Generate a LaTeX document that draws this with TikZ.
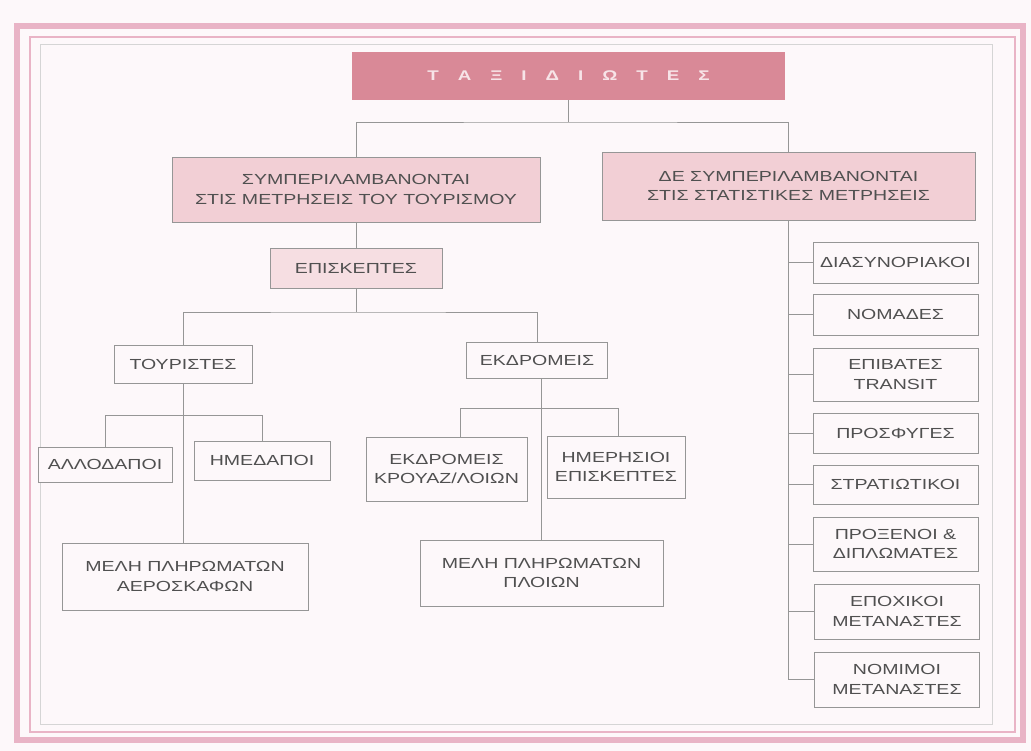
\documentclass[tikz,border=0pt]{standalone}
\usepackage{fontspec}
\setmainfont{Liberation Sans}[FakeStretch=1.34]

\definecolor{bgpink}{RGB}{253,248,250}
\definecolor{framepink}{RGB}{233,180,198}
\definecolor{titlepink}{RGB}{217,137,151}
\definecolor{titletext}{RGB}{247,228,232}
\definecolor{palepink}{RGB}{242,207,213}
\definecolor{lightpink}{RGB}{246,222,226}
\definecolor{linegray}{RGB}{150,150,150}
\definecolor{textgray}{RGB}{80,80,80}

\tikzset{
  box/.style={draw=linegray, line width=0.8pt, fill=bgpink, text=textgray,
    align=center, inner sep=2pt, font=\fontsize{14.6}{19.5}\selectfont},
  pinkbox/.style={box, fill=palepink},
  link/.style={draw=linegray, line width=0.8pt},
}

\begin{document}
\begin{tikzpicture}[x=1pt,y=-1pt]
\path[fill=bgpink] (0,0) rectangle (1031,751);
\draw[framepink, line width=6pt] (17,26) rectangle (1023,740);
\draw[framepink, line width=1.5pt] (30,37) rectangle (1015,732);
\draw[linegray!40, line width=0.6pt] (40,44) rectangle (992,724);

\node[box, draw=none, fill=titlepink, text=titletext, minimum width=433pt, minimum height=48pt,
  font=\fontsize{14}{16}\selectfont\bfseries] (title) at (568.5,76)
  {Τ\hspace{19pt}Α\hspace{19pt}Ξ\hspace{19pt}Ι\hspace{19pt}Δ\hspace{19pt}Ι\hspace{19pt}Ω\hspace{19pt}Τ\hspace{19pt}Ε\hspace{19pt}Σ};

\node[pinkbox, minimum width=368pt, minimum height=65pt] (incl) at (356,189.5)
  {ΣΥΜΠΕΡΙΛΑΜΒΑΝΟΝΤΑΙ\\ΣΤΙΣ ΜΕΤΡΗΣΕΙΣ ΤΟΥ ΤΟΥΡΙΣΜΟΥ};
\node[pinkbox, minimum width=373pt, minimum height=68pt] (excl) at (788.5,186)
  {ΔΕ ΣΥΜΠΕΡΙΛΑΜΒΑΝΟΝΤΑΙ\\ΣΤΙΣ ΣΤΑΤΙΣΤΙΚΕΣ ΜΕΤΡΗΣΕΙΣ};

\node[box, fill=lightpink, minimum width=172pt, minimum height=40pt] (visit) at (356,268) {ΕΠΙΣΚΕΠΤΕΣ};

\node[box, minimum width=138pt, minimum height=38pt] (tour) at (183,364) {ΤΟΥΡΙΣΤΕΣ};
\node[box, minimum width=141pt, minimum height=36pt] (exc) at (537,360) {ΕΚΔΡΟΜΕΙΣ};

\node[box, minimum width=134pt, minimum height=35pt] (allo) at (105,464.5) {ΑΛΛΟΔΑΠΟΙ};
\node[box, minimum width=136pt, minimum height=39pt] (hmeda) at (262,460.5) {ΗΜΕΔΑΠΟΙ};
\node[box, minimum width=246pt, minimum height=67pt] (crewair) at (185,576.5) {ΜΕΛΗ ΠΛΗΡΩΜΑΤΩΝ\\ΑΕΡΟΣΚΑΦΩΝ};

\node[box, minimum width=161pt, minimum height=64pt] (cruise) at (446.5,469) {ΕΚΔΡΟΜΕΙΣ\\ΚΡΟΥΑΖ/ΛΟΙΩΝ};
\node[box, minimum width=138pt, minimum height=62pt] (hmer) at (616,467) {ΗΜΕΡΗΣΙΟΙ\\ΕΠΙΣΚΕΠΤΕΣ};
\node[box, minimum width=243pt, minimum height=66pt] (crewship) at (541.5,573) {ΜΕΛΗ ΠΛΗΡΩΜΑΤΩΝ\\ΠΛΟΙΩΝ};

\node[box, minimum width=165pt, minimum height=41pt] (dias) at (895.5,262.5) {ΔΙΑΣΥΝΟΡΙΑΚΟΙ};
\node[box, minimum width=165pt, minimum height=41pt] (nomad) at (895.5,314.5) {ΝΟΜΑΔΕΣ};
\node[box, minimum width=165pt, minimum height=53pt] (transit) at (895.5,374.5) {ΕΠΙΒΑΤΕΣ\\TRANSIT};
\node[box, minimum width=165pt, minimum height=40pt] (prosf) at (895.5,433) {ΠΡΟΣΦΥΓΕΣ};
\node[box, minimum width=165pt, minimum height=39pt] (strat) at (895.5,484.5) {ΣΤΡΑΤΙΩΤΙΚΟΙ};
\node[box, minimum width=165pt, minimum height=54pt] (proxen) at (895.5,544) {ΠΡΟΞΕΝΟΙ \&\\ΔΙΠΛΩΜΑΤΕΣ};
\node[box, minimum width=165pt, minimum height=55pt] (epox) at (897,611.5) {ΕΠΟΧΙΚΟΙ\\ΜΕΤΑΝΑΣΤΕΣ};
\node[box, minimum width=165pt, minimum height=55pt] (nomim) at (897,679.5) {ΝΟΜΙΜΟΙ\\ΜΕΤΑΝΑΣΤΕΣ};

% connectors
\coordinate (tj) at (568.5,122);
\draw[link] (title.south) -- (tj);
\draw[link] (incl.north) |- (tj) -| (excl.north);
\draw[link] (incl.south) -- (visit.north);

\coordinate (vj) at (356,312);
\draw[link] (visit.south) -- (vj);
\draw[link] (tour.north) |- (vj) -| (exc.north);

\coordinate (tl) at (105,415);
\coordinate (tr) at (262,415);
\draw[link] (tour.south) -- (tour.south |- crewair.north);
\draw[link] (allo.north) -- (tl) -- (tr) -- (hmeda.north);

\coordinate (el) at (460,408);
\coordinate (er) at (618,408);
\draw[link] (exc.south -| crewship.north) -- (crewship.north);
\draw[link] (el |- cruise.north) -- (el) -- (er) -- (er |- hmer.north);

\draw[link] (excl.south) -- (excl.south |- nomim.west) -- (nomim.west);
\foreach \n in {dias,nomad,transit,prosf,strat,proxen,epox}
  \draw[link] (excl.south |- \n.west) -- (\n.west);
\end{tikzpicture}
\end{document}
